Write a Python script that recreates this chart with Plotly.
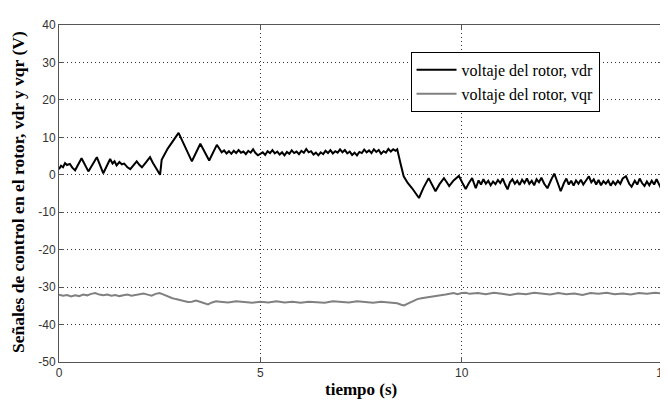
import plotly.graph_objects as go

# ---- data ----
t_vdr = [0.00, 0.05, 0.10, 0.15, 0.20, 0.27, 0.33, 0.40, 0.56, 0.73, 0.94, 1.10, 1.27, 1.33, 1.38, 1.43,
         1.50, 1.56, 1.62, 1.70, 1.77, 1.85, 1.93, 2.00, 2.06, 2.15, 2.26, 2.33, 2.39, 2.51, 2.55, 2.70,
         2.97, 3.30, 3.51, 3.73, 3.92, 3.97, 4.04,
         4.10, 4.16, 4.22, 4.28, 4.34, 4.40, 4.46, 4.52, 4.58, 4.64, 4.70, 4.76, 4.82, 4.88, 4.94, 5.00,
         5.06, 5.12, 5.18, 5.24, 5.30, 5.36, 5.42, 5.48, 5.54, 5.60, 5.66, 5.72, 5.78, 5.84, 5.90, 5.96,
         6.02, 6.08, 6.14, 6.20, 6.26, 6.32, 6.38, 6.44, 6.50, 6.56, 6.62, 6.68, 6.74, 6.80, 6.86, 6.92,
         6.98, 7.04, 7.10, 7.16, 7.22, 7.28, 7.34, 7.40, 7.46, 7.52, 7.58, 7.64, 7.70, 7.76, 7.82, 7.88,
         7.94, 8.00, 8.06, 8.12, 8.18, 8.24, 8.30, 8.36, 8.40,
         8.48, 8.56, 8.66, 8.77, 8.94, 9.05, 9.18, 9.35, 9.45, 9.56, 9.63, 9.69, 9.80, 9.93, 10.02, 10.10,
         10.18, 10.26, 10.35,
         10.42, 10.48, 10.54, 10.60, 10.66, 10.72, 10.78, 10.84, 10.90, 10.96, 11.02, 11.08, 11.14, 11.20,
         11.26, 11.32, 11.38, 11.44, 11.50, 11.56, 11.62, 11.68, 11.74, 11.80, 11.86, 11.92, 11.98, 12.05,
         12.13, 12.22, 12.30, 12.38, 12.46, 12.54, 12.60, 12.66, 12.72, 12.78, 12.84, 12.90, 12.96, 13.02,
         13.08, 13.16, 13.22, 13.28, 13.34, 13.40, 13.46, 13.52, 13.58, 13.64, 13.70, 13.76, 13.82, 13.88,
         13.94, 14.00, 14.08, 14.16, 14.22, 14.30, 14.36, 14.42, 14.48, 14.54, 14.60, 14.66, 14.72, 14.78,
         14.84, 14.90, 14.95, 15.00]
v_vdr = [1.5, 2.4, 2.0, 3.1, 2.6, 2.9, 1.9, 1.2, 4.4, 0.9, 4.7, 0.4, 4.2, 3.0, 3.6, 2.5,
         3.4, 2.8, 3.0, 2.0, 1.5, 2.7, 3.6, 2.6, 2.0, 3.2, 4.7, 3.2, 2.2, 0.0, 4.0, 7.0,
         11.2, 3.6, 8.3, 3.8, 8.0, 7.2, 6.0,
         6.5, 5.7, 6.3, 5.6, 6.4, 5.8, 6.6, 5.9, 6.2, 5.5, 6.4, 5.9, 6.8, 5.8, 5.2, 5.6,
         6.0, 5.3, 6.3, 5.8, 6.6, 5.7, 6.2, 5.4, 6.0, 5.2, 6.1, 5.6, 6.5, 5.8, 6.2, 5.5,
         6.4, 5.9, 6.9, 6.0, 6.3, 5.4, 5.9, 5.2, 6.0, 5.5, 6.4, 5.8, 6.6, 5.7, 6.3, 5.9,
         6.8, 6.0, 6.6, 5.7, 6.2, 5.3, 5.9, 5.2, 6.1, 5.8, 6.7, 6.0, 6.5, 5.8, 6.8, 6.1,
         6.6, 5.6, 6.3, 5.9, 6.9, 6.2, 6.8, 6.4, 6.8,
         3.1, -0.4, -2.2, -3.6, -6.2, -3.5, -0.9, -4.4, -2.5, -0.9, -2.0, -3.0, -1.5, -0.3, -2.2, -3.8,
         -2.2, -0.9, -3.6,
         -1.5, -2.6, -1.2, -2.4, -1.6, -2.8, -1.8, -2.5, -1.4, -2.2, -1.0, -2.6, -3.9, -2.0,
         -1.2, -2.4, -1.6, -2.7, -1.3, -2.2, -1.0, -2.4, -1.6, -2.8, -1.2, -2.0, -0.8, -2.4,
         -3.6, -1.4, 0.3, -2.0, -4.4, -2.2, -1.0, -2.6, -1.6, -2.9, -1.5, -2.4, -1.3, -2.6,
         -1.5, -0.4, -2.0, -1.2, -2.6, -1.4, -2.8, -1.7, -2.4, -1.5, -2.9, -1.8, -2.6, -1.6,
         -2.4, -1.0, -0.4, -2.4, -3.2, -1.6, -2.6, -1.0, -2.2, -3.0, -1.8, -2.8, -1.6, -2.6,
         -1.2, -2.4, -3.6, -1.6]

t_vqr = [0.0, 0.1, 0.2, 0.3, 0.4, 0.5, 0.6, 0.7, 0.8, 0.9, 1.0, 1.1, 1.2, 1.3, 1.4, 1.5, 1.6, 1.7,
         1.8, 1.9, 2.0, 2.1, 2.2, 2.3, 2.4, 2.5, 2.6, 2.7, 2.8, 2.9, 3.0, 3.1, 3.2, 3.3, 3.4, 3.5,
         3.6, 3.7, 3.8, 3.9, 4.0, 4.2, 4.4, 4.6, 4.8, 5.0, 5.2, 5.4, 5.6, 5.8, 6.0, 6.2, 6.4, 6.6,
         6.8, 7.0, 7.2, 7.4, 7.6, 7.8, 8.0, 8.2, 8.3, 8.4, 8.5, 8.57, 8.7, 8.8, 8.9, 9.0, 9.2, 9.4,
         9.6, 9.8, 9.9, 10.0, 10.1, 10.2, 10.4, 10.6, 10.8, 11.0, 11.2, 11.4, 11.6, 11.8, 12.0, 12.2,
         12.4, 12.6, 12.8, 13.0, 13.2, 13.4, 13.6, 13.8, 14.0, 14.2, 14.4, 14.6, 14.8, 15.0]
v_vqr = [-32.0, -32.3, -32.1, -32.5, -32.2, -32.4, -32.0, -32.2, -31.8, -31.6, -32.0, -32.2, -32.0,
         -32.3, -32.1, -32.4, -32.2, -32.0, -32.3, -32.1, -31.9, -31.7, -32.0, -32.3, -31.8, -31.6,
         -32.0, -32.5, -32.9, -33.2, -33.5, -33.8, -34.0, -33.9, -33.6, -33.9, -34.2, -34.6, -34.1,
         -33.8, -33.9, -34.1, -33.8, -34.0, -34.2, -33.9, -34.1, -33.8, -34.1, -33.9, -34.2, -33.9,
         -34.0, -34.2, -33.8, -34.0, -34.1, -33.8, -34.0, -34.2, -33.9, -34.0, -34.2, -34.3, -34.7,
         -34.9, -34.2, -33.6, -33.2, -33.0, -32.7, -32.3, -32.0, -31.6, -31.9, -31.6, -31.5, -31.8,
         -31.6, -31.9, -31.5, -31.8, -32.1, -31.7, -31.9, -31.5, -31.8, -32.0, -31.6, -31.9, -31.7,
         -32.1, -31.6, -31.8, -31.5, -31.9, -31.7, -32.0, -31.6, -31.8, -31.5, -31.7]

x_ticks = [0, 5, 10, 15]
y_ticks = [-50, -40, -30, -20, -10, 0, 10, 20, 30, 40]
x_label = "tiempo (s)"
y_label = "Señales de control en el rotor, vdr y vqr (V)"

serif = "Liberation Serif, Times New Roman, serif"
sans = "Liberation Sans, Arial, sans-serif"

fig = go.Figure()
fig.add_trace(go.Scatter(x=t_vdr, y=v_vdr, mode="lines", name="voltaje del rotor, vdr",
                         line=dict(color="black", width=2)))
fig.add_trace(go.Scatter(x=t_vqr, y=v_vqr, mode="lines", name="voltaje del rotor, vqr",
                         line=dict(color="#808080", width=2)))

axis_common = dict(showline=True, linecolor="#555555", linewidth=1, mirror="ticks",
                   ticks="inside", ticklen=5, tickcolor="#555555",
                   showgrid=True, gridcolor="#333333", griddash="1px,3px", gridwidth=1,
                   zeroline=False, automargin=False, ticklabeloverflow="allow",
                   tickfont=dict(family=sans, size=12, color="#333333"))

fig.update_xaxes(range=[0, 15], tickvals=x_ticks, ticktext=[str(v) for v in x_ticks], **axis_common)
fig.update_yaxes(range=[-50, 40], tickvals=y_ticks, ticktext=[str(v) for v in y_ticks], **axis_common)

fig.add_annotation(text="<b>" + x_label + "</b>", xref="paper", yref="paper", x=0.5, y=-0.082,
                   xanchor="center", yanchor="middle", showarrow=False,
                   font=dict(family=serif, size=17, color="black"))
fig.add_annotation(text="<b>" + y_label + "</b>", xref="paper", yref="paper", x=-0.068, y=0.504,
                   xanchor="center", yanchor="middle", showarrow=False, textangle=-90,
                   font=dict(family=serif, size=17.5, color="black"))

# The page body has an 8px margin, so the figure is sized to fit the window after that offset.
fig.update_layout(
    width=660, height=394,
    margin=dict(l=51, r=5, t=17, b=40),
    plot_bgcolor="white", paper_bgcolor="white",
    showlegend=True,
    legend=dict(x=0.582, y=0.92, xanchor="left", yanchor="top",
                bgcolor="white", bordercolor="black", borderwidth=1,
                font=dict(family=serif, size=16, color="black"),
                tracegroupgap=0, itemwidth=40),
)

fig.write_html("out.html")
